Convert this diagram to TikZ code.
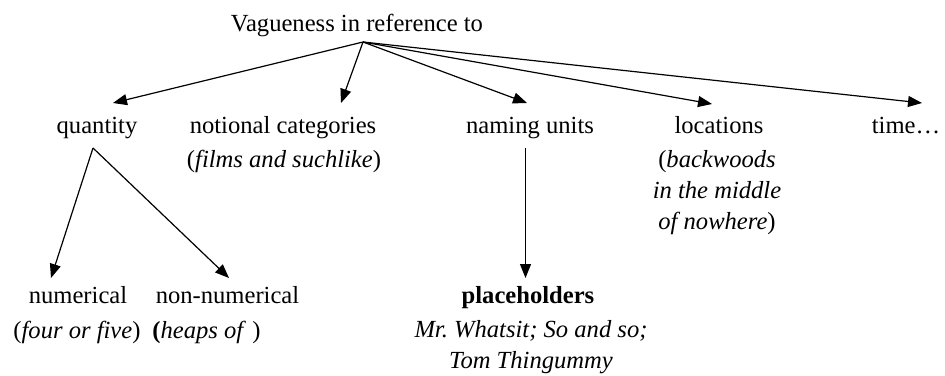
\documentclass[tikz,border=0pt]{standalone}
\usepackage{fontspec}
\setmainfont{Liberation Serif}
\usetikzlibrary{arrows.meta, positioning, calc}

\begin{document}
\begin{tikzpicture}[
  x=0.5pt, y=-0.5pt,
  term/.style = {inner sep=0pt, anchor=base, font=\fontsize{12.3pt}{15.5pt}\selectfont},
  example/.style = {term, align=center},
  arrow/.style = {line width=0.6pt, -{Triangle[length=7pt, width=5.5pt]}}
]
  \useasboundingbox (0,0) rectangle (945,375);

  % Root
  \node[term] (root) at (357,31) {Vagueness in reference to};
  \coordinate (hub) at (363,42);

  % First level
  \node[term] (quantity) at (97,133) {quantity};
  \node[term] (notional) at (283,133) {notional categories};
  \node[term] (naming) at (530,133) {naming units};
  \node[term] (locations) at (719,133) {locations};
  \node[term] (time) at (906,133) {time\ldots};

  % Examples below first level (base = last line)
  \node[example] (notional_ex) at (284,167) {(\textit{films and suchlike})};
  \node[example] (locations_ex) at (717,229) {(\textit{backwoods}\\\textit{in the middle}\\\textit{of nowhere})};

  % Second level
  \node[term] (numerical) at (78,303) {numerical};
  \node[term] (nonnumerical) at (227.5,303) {non-numerical};
  \node[term] (placeholders) at (528,303) {\textbf{placeholders}};

  % Examples below second level
  \node[example] (numerical_ex) at (77,338) {(\textit{four or five})};
  \node[term, anchor=base west] (nonnumerical_ex) at (152,338) {\textbf{(}\textit{heaps of} )};
  \node[example] (placeholders_ex) at (531,368) {\textit{Mr.\ Whatsit; So and so;}\\\textit{Tom Thingummy}};

  % Root -> first level
  \draw[arrow] (hub) -- ([shift={(16,-30)}]quantity.base);
  \draw[arrow] (hub) -- ([shift={(58,-30)}]notional.base);
  \draw[arrow] (hub) -- ([shift={(-3,-30)}]naming.base);
  \draw[arrow] (hub) -- ([shift={(-7,-29)}]locations.base);
  \draw[arrow] (hub) -- ([shift={(16,-30)}]time.base);

  % Quantity -> numerical / non-numerical
  \coordinate (qsplit) at ([shift={(-4,15)}]quantity.base);
  \draw[arrow] (qsplit) -- ([shift={(-27,-25)}]numerical.base);
  \draw[arrow] (qsplit) -- ([shift={(1.5,-25)}]nonnumerical.base);

  % Naming units -> placeholders
  \coordinate (nsplit) at ([shift={(-4.5,15)}]naming.base);
  \draw[arrow] (nsplit) -- ([shift={(-2.5,-25)}]placeholders.base);

\end{tikzpicture}
\end{document}
